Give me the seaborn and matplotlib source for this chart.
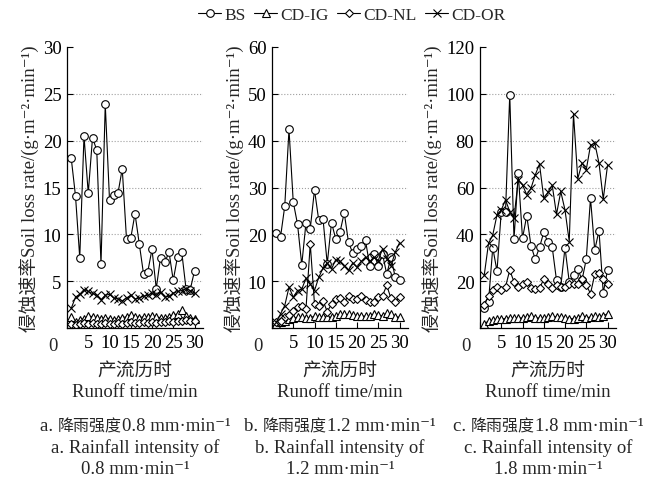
"""Soil loss rate vs runoff time under three rainfall intensities."""
import matplotlib
matplotlib.use('Agg')
import matplotlib.pyplot as plt
from matplotlib.lines import Line2D
from matplotlib.offsetbox import TextArea, HPacker, AnnotationBbox
import numpy as np
import pandas as pd
import seaborn as sns

minutes = list(range(1, 31))
series_names = ['BS', 'CD-IG', 'CD-NL', 'CD-OR']

# rainfall intensity 0.8 mm/min
bs_08 = [18.1, 14.1, 7.5, 20.5, 14.4, 20.3, 19.0, 6.8, 23.9, 13.7,
         14.2, 14.4, 17.0, 9.5, 9.6, 12.2, 9.0, 5.8, 6.0, 8.4,
         4.2, 7.5, 7.0, 8.1, 5.1, 7.6, 8.1, 4.2, 4.1, 6.1]
ig_08 = [1.2, 0.6, 0.9, 1.0, 1.3, 1.2, 1.1, 1.0, 1.1, 1.0,
         0.9, 1.0, 1.1, 1.2, 1.4, 1.2, 1.1, 1.2, 1.2, 1.3,
         1.2, 1.1, 1.1, 1.2, 1.4, 1.5, 1.9, 1.3, 1.1, 1.0]
nl_08 = [0.4, 0.3, 0.4, 0.5, 0.4, 0.5, 0.4, 0.4, 0.5, 0.4,
         0.4, 0.5, 0.4, 0.5, 0.6, 0.5, 0.5, 0.6, 0.5, 0.6,
         0.5, 0.6, 0.6, 0.7, 0.6, 0.7, 0.8, 0.9, 0.8, 0.8]
or_08 = [2.1, 3.3, 3.6, 4.1, 3.9, 3.7, 3.5, 3.0, 3.5, 3.6,
         3.2, 3.1, 2.9, 3.2, 3.5, 3.1, 3.2, 3.4, 3.5, 3.7,
         3.5, 3.8, 3.3, 3.4, 3.7, 3.9, 4.0, 4.2, 4.0, 3.7]

# rainfall intensity 1.2 mm/min
bs_12 = [20.3, 19.4, 26.0, 42.4, 26.9, 22.2, 13.5, 22.5, 21.2, 29.5,
         23.0, 23.3, 13.7, 22.5, 19.0, 20.5, 24.6, 18.3, 16.0, 16.9,
         17.5, 18.7, 13.2, 15.8, 13.3, 15.8, 11.5, 15.1, 10.8, 10.3]
ig_12 = [0.9, 1.2, 1.6, 1.9, 2.1, 2.3, 2.3, 2.2, 2.2, 2.5,
         2.4, 2.4, 2.4, 2.3, 2.6, 2.9, 2.9, 2.9, 2.8, 2.6,
         2.6, 2.5, 2.5, 3.0, 2.8, 2.6, 3.2, 2.9, 2.4, 2.3]
nl_12 = [1.2, 1.6, 2.3, 2.8, 3.7, 4.4, 4.8, 4.1, 18.0, 5.1,
         4.8, 5.8, 3.5, 5.1, 6.2, 6.3, 5.5, 6.9, 6.2, 6.1,
         6.8, 6.0, 5.5, 5.5, 6.6, 6.9, 9.1, 6.3, 5.5, 6.6]
or_12 = [1.2, 3.0, 4.8, 8.7, 6.6, 8.0, 8.3, 10.6, 9.4, 8.0,
         10.8, 12.8, 13.9, 12.6, 14.6, 14.2, 13.3, 12.3, 13.9, 13.0,
         14.2, 15.1, 14.2, 15.1, 14.4, 16.9, 14.8, 13.3, 16.2, 18.2]

# rainfall intensity 1.8 mm/min
bs_18 = [8.6, 11.1, 34.3, 24.3, 49.7, 49.4, 99.7, 38.0, 66.1, 38.3,
         48.0, 35.1, 29.4, 34.4, 40.9, 36.6, 34.4, 20.4, 17.6, 34.3,
         19.7, 22.6, 25.4, 20.4, 29.4, 55.4, 33.3, 41.6, 15.0, 24.7]
ig_18 = [1.9, 2.9, 3.3, 3.7, 4.0, 4.0, 4.3, 4.3, 4.3, 4.3,
         4.7, 5.1, 4.3, 4.3, 4.3, 4.7, 5.0, 4.7, 4.7, 4.3,
         4.0, 4.0, 4.3, 5.1, 4.3, 4.7, 5.0, 4.7, 5.1, 6.1]
nl_18 = [10.0, 13.7, 16.1, 17.6, 16.1, 17.6, 24.7, 19.7, 17.6, 18.7,
         19.7, 16.9, 16.6, 16.9, 20.9, 18.6, 16.9, 18.3, 17.6, 17.6,
         19.0, 18.6, 19.0, 21.1, 18.3, 14.7, 22.9, 23.7, 20.9, 18.6]
or_18 = [22.6, 36.1, 39.7, 48.3, 50.4, 54.7, 49.7, 46.9, 63.3, 61.1,
         56.9, 59.7, 65.4, 70.0, 55.4, 58.0, 60.9, 48.5, 58.3, 50.4,
         36.9, 91.4, 63.7, 70.4, 67.6, 78.0, 79.0, 70.4, 55.0, 69.4]

y_max = [30, 60, 120]
y_step = [5, 10, 20]
panel_tags = ['a. ', 'b. ', 'c. ']
intensities = ['0.8', '1.2', '1.8']
ylabel = '侵蚀速率Soil loss rate/(g·m⁻²·min⁻¹)'
panels = [[bs_08, ig_08, nl_08, or_08],
          [bs_12, ig_12, nl_12, or_12],
          [bs_18, ig_18, nl_18, or_18]]

styles = {
    'BS': dict(marker='o', markersize=5.5),
    'CD-IG': dict(marker='^', markersize=5.5),
    'CD-NL': dict(marker='D', markersize=4.5),
    'CD-OR': dict(marker='x', markersize=6),
}

sns.set_theme(style='ticks')
plt.rcParams['font.family'] = ['Liberation Serif', 'Noto Sans CJK SC',
                               'DejaVu Serif']

FS = 13.5
fig = plt.figure(figsize=(6.59, 4.81), dpi=100)
lefts = [67, 272, 480]
W, H = 659.0, 481.0


def caption_first_line(ax, tag, value, xy):
    """Latin parts at full size, the Chinese words a bit smaller."""
    parts = [
        TextArea(tag, textprops=dict(fontsize=FS)),
        TextArea('降雨强度', textprops=dict(fontsize=11.5,
                                          family='Noto Sans CJK SC')),
        TextArea(value + ' mm·min⁻¹', textprops=dict(fontsize=FS)),
    ]
    box = HPacker(children=parts, align='baseline', pad=0, sep=0)
    ab = AnnotationBbox(box, xy, xycoords='figure fraction', frameon=False,
                        box_alignment=(0.5, 0.5), pad=0,
                        annotation_clip=False)
    ax.add_artist(ab)


for i, left in enumerate(lefts):
    ax = fig.add_axes([left / W, 1 - 329 / H, 136 / W, 281 / H])
    df = pd.DataFrame({'time': minutes})
    for name, vals in zip(series_names, panels[i]):
        df[name] = vals
    for name in series_names:
        sns.lineplot(data=df, x='time', y=name, ax=ax, color='black',
                     linewidth=0.8, markerfacecolor='white',
                     markeredgecolor='black', markeredgewidth=0.8,
                     **styles[name])

    ax.set_xlim(0, 32)
    ax.set_ylim(0, y_max[i])
    xt = np.arange(0, 31, 5)
    ax.set_xticks(xt)
    ax.set_xticklabels([''] + [str(v) for v in xt[1:]])
    yt = np.arange(0, y_max[i] + 1, y_step[i])
    ax.set_yticks(yt)
    ax.set_yticklabels([''] + [str(v) for v in yt[1:]])
    ax.tick_params(direction='in', length=4, width=0.8, labelsize=FS,
                   pad=4, colors='black')
    ax.grid(axis='y', linestyle=':', color='#a0a0a0', linewidth=0.8)
    ax.grid(axis='x', visible=False)
    gl = ax.get_ygridlines()
    gl[0].set_visible(False)
    gl[-1].set_visible(False)
    for s in ['top', 'right']:
        ax.spines[s].set_visible(False)
    for s in ['left', 'bottom']:
        ax.spines[s].set_color('black')
        ax.spines[s].set_linewidth(0.9)
    ax.set_xlabel('产流历时\nRunoff time/min', fontsize=FS, labelpad=8,
                  linespacing=1.3)
    ax.set_ylabel(ylabel, fontsize=FS, labelpad=3)
    # the shared origin label sits below the corner
    ax.text(left - 14, 481 - 347, '0', transform=None, fontsize=FS,
            ha='center', va='center')
    cx = (left + 68) / W
    caption_first_line(ax, panel_tags[i], intensities[i], (cx, 1 - 427 / H))
    fig.text(cx, 1 - 448 / H, panel_tags[i] + 'Rainfall intensity of',
             fontsize=FS, ha='center', va='center')
    fig.text(cx, 1 - 470 / H, intensities[i] + ' mm·min⁻¹',
             fontsize=FS, ha='center', va='center')

handles = [Line2D([], [], color='black', linewidth=0.8,
                  markerfacecolor='white', markeredgecolor='black',
                  markeredgewidth=0.8, **styles[n]) for n in series_names]
fig.legend(handles, series_names, loc='center', ncol=4, frameon=False,
           bbox_to_anchor=(352 / W, 1 - 16 / H), fontsize=12.5,
           handlelength=1.3, handletextpad=0.2, columnspacing=0.5,
           borderaxespad=0, borderpad=0)

fig.savefig('out.png', dpi=100)
